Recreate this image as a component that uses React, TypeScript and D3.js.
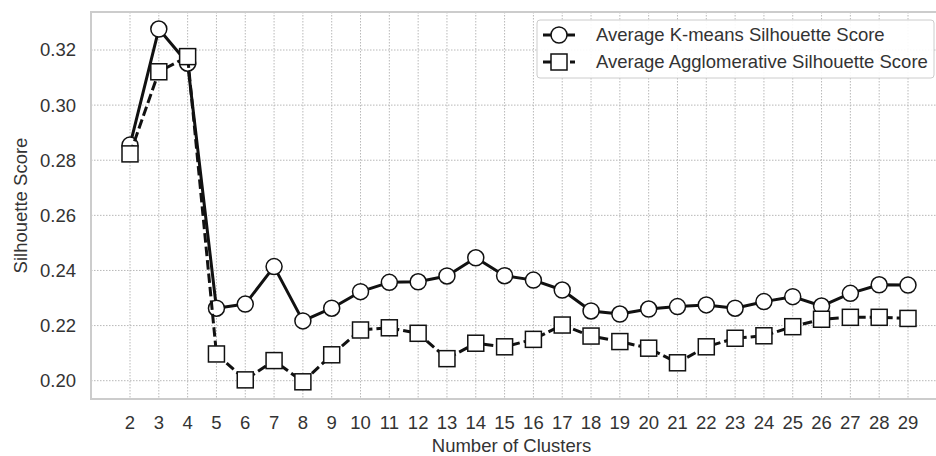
import React from "react";
import * as d3 from "d3";

const clusters = [2, 3, 4, 5, 6, 7, 8, 9, 10, 11, 12, 13, 14, 15, 16, 17, 18, 19, 20, 21, 22, 23, 24, 25, 26, 27, 28, 29];
const kmeansScores = [0.2855, 0.3276, 0.3152, 0.2263, 0.2278, 0.2414, 0.2217, 0.2263, 0.2323, 0.2357, 0.2359, 0.238, 0.2446, 0.2381, 0.2365, 0.2329, 0.2253, 0.2242, 0.226, 0.2269, 0.2275, 0.2263, 0.2287, 0.2305, 0.2271, 0.2317, 0.2348, 0.2347];
const agglomerativeScores = [0.2823, 0.3121, 0.3176, 0.2097, 0.2003, 0.2073, 0.1996, 0.2094, 0.2184, 0.2192, 0.2172, 0.208, 0.2136, 0.2123, 0.215, 0.2202, 0.2162, 0.2142, 0.2118, 0.2065, 0.2123, 0.2154, 0.2163, 0.2196, 0.2223, 0.223, 0.223, 0.2226];
const yTicks = [0.2, 0.22, 0.24, 0.26, 0.28, 0.3, 0.32];
const seriesLabels = ["Average K-means Silhouette Score", "Average Agglomerative Silhouette Score"];

const W = 936;
const H = 456;
const left = 91;
const right = 960;
const top = 12;
const bottom = 399;
const FONT = "Liberation Sans, Arial, sans-serif";
const TEXT = "#333";
const DASH = "9.5,4";

export default function App() {
  const x = d3.scaleLinear().domain([2, 29]).range([130, 908]);
  const y = d3.scaleLinear().domain([0.2, 0.32]).range([380.7, 50]);

  const line = d3
    .line<number>()
    .x((_, i) => x(clusters[i]))
    .y((d) => y(d));

  return (
    <svg
      width={W}
      height={H}
      style={{ position: "absolute", left: 0, top: 0, background: "#fff" }}
      fontFamily={FONT}
    >
      <defs>
        <clipPath id="plot">
          <rect x={left} y={top} width={right - left} height={bottom - top} />
        </clipPath>
      </defs>

      {/* grid */}
      <g stroke="#b8b8b8" strokeWidth={1} strokeDasharray="1.5,1.5">
        {clusters.map((c) => (
          <line key={"gx" + c} x1={x(c)} x2={x(c)} y1={top} y2={bottom} />
        ))}
        {yTicks.map((t) => (
          <line key={"gy" + t} x1={left} x2={right} y1={y(t)} y2={y(t)} />
        ))}
      </g>

      {/* frame */}
      <rect x={left} y={top} width={right - left} height={bottom - top} fill="none" stroke="#cccccc" strokeWidth={2} />

      {/* series */}
      <g clipPath="url(#plot)">
        <path d={line(kmeansScores) ?? ""} fill="none" stroke="#111" strokeWidth={3} strokeLinejoin="round" />
        {kmeansScores.map((v, i) => (
          <circle key={"k" + i} cx={x(clusters[i])} cy={y(v)} r={8} fill="#fff" stroke="#111" strokeWidth={1.5} />
        ))}
        <path
          d={line(agglomerativeScores) ?? ""}
          fill="none"
          stroke="#111"
          strokeWidth={3}
          strokeDasharray={DASH}
        />
        {agglomerativeScores.map((v, i) => (
          <rect
            key={"a" + i}
            x={x(clusters[i]) - 8}
            y={y(v) - 8}
            width={16}
            height={16}
            fill="#fff"
            stroke="#111"
            strokeWidth={1.5}
          />
        ))}
      </g>

      {/* y ticks */}
      <g fontSize={18.5} fill={TEXT} textAnchor="end">
        {yTicks.map((t) => (
          <text key={"yt" + t} x={76} y={y(t)} dy="0.35em">
            {d3.format(".2f")(t)}
          </text>
        ))}
      </g>

      {/* x ticks */}
      <g fontSize={18.5} fill={TEXT} textAnchor="middle">
        {clusters.map((c) => (
          <text key={"xt" + c} x={x(c)} y={429}>
            {c}
          </text>
        ))}
      </g>

      <text x={511.5} y={452} fontSize={18.5} fill={TEXT} textAnchor="middle">
        Number of Clusters
      </text>
      <text
        transform={`translate(27,${(top + bottom) / 2}) rotate(-90)`}
        fontSize={18.5}
        fill={TEXT}
        textAnchor="middle"
      >
        Silhouette Score
      </text>

      {/* legend */}
      <g>
        <rect x={537} y={20} width={397} height={58} rx={3} fill="#fff" fillOpacity={0.9} stroke="#cccccc" strokeWidth={1} />
        <line x1={543} x2={575} y1={35} y2={35} stroke="#111" strokeWidth={3} />
        <circle cx={559} cy={35} r={8} fill="#fff" stroke="#111" strokeWidth={1.5} />
        <line x1={543} x2={575} y1={62} y2={62} stroke="#111" strokeWidth={3} strokeDasharray={DASH} />
        <rect x={551} y={54} width={16} height={16} fill="#fff" stroke="#111" strokeWidth={1.5} />
        <text x={596} y={35} dy="0.35em" fontSize={18.5} fill={TEXT}>
          {seriesLabels[0]}
        </text>
        <text x={596} y={62} dy="0.35em" fontSize={18.5} fill={TEXT}>
          {seriesLabels[1]}
        </text>
      </g>
    </svg>
  );
}
